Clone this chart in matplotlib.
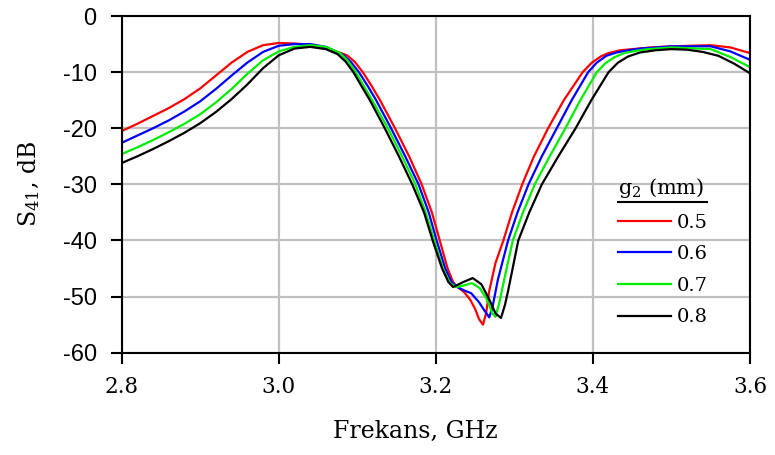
import matplotlib
matplotlib.use("Agg")
import matplotlib.pyplot as plt
from matplotlib.lines import Line2D

plt.rcParams['mathtext.fontset'] = 'dejavuserif'

# g2 = 0.5 mm
f_05 = [2.80, 2.82, 2.84, 2.86, 2.88, 2.90, 2.92, 2.94, 2.96, 2.98, 3.00, 3.02, 3.04,
        3.065, 3.087, 3.097, 3.107, 3.118, 3.129, 3.148, 3.166, 3.182, 3.195, 3.205,
        3.215, 3.222, 3.226, 3.236, 3.244, 3.250, 3.255, 3.260, 3.264, 3.268, 3.276,
        3.286, 3.297, 3.310, 3.325, 3.343, 3.363, 3.387, 3.398, 3.41, 3.42, 3.435,
        3.45, 3.475, 3.50, 3.55, 3.575, 3.60]
s_05 = [-20.5, -19.2, -17.8, -16.4, -14.8, -12.9, -10.6, -8.3, -6.4, -5.2, -4.8, -4.9, -5.1,
        -5.9, -7.0, -8.2, -10.0, -12.4, -15.0, -20, -25, -30, -35, -40,
        -45, -47.4, -48.1, -49.2, -50.6, -52.2, -54.0, -55.0, -53.0, -49.0, -44.0,
        -40, -35, -30, -25, -20, -15, -10, -8.4, -7.2, -6.6, -6.1,
        -5.9, -5.6, -5.4, -5.2, -5.6, -6.6]

# g2 = 0.6 mm
f_06 = [2.80, 2.82, 2.84, 2.86, 2.88, 2.90, 2.92, 2.94, 2.96, 2.98, 3.00, 3.02, 3.04,
        3.06, 3.082, 3.092, 3.102, 3.113, 3.124, 3.143, 3.161, 3.178, 3.191, 3.201,
        3.212, 3.220, 3.226, 3.236, 3.245, 3.255, 3.262, 3.268, 3.272, 3.279,
        3.292, 3.304, 3.318, 3.335, 3.354, 3.373, 3.394, 3.405, 3.417, 3.43, 3.445,
        3.46, 3.48, 3.50, 3.55, 3.575, 3.60]
s_06 = [-22.6, -21.3, -20.0, -18.6, -17.0, -15.2, -13.0, -10.6, -8.3, -6.4, -5.3, -5.0, -5.0,
        -5.5, -6.9, -8.2, -10.0, -12.4, -15.0, -20, -25, -30, -35, -40,
        -45, -47.4, -48.2, -48.9, -49.4, -51.0, -52.5, -53.7, -52.0, -47.0,
        -40, -35, -30, -25, -20, -15, -10, -8.3, -7.1, -6.5, -6.1,
        -5.8, -5.6, -5.4, -5.4, -6.3, -7.8]

# g2 = 0.7 mm
f_07 = [2.80, 2.82, 2.84, 2.86, 2.88, 2.90, 2.92, 2.94, 2.96, 2.98, 3.00, 3.02, 3.04,
        3.06, 3.078, 3.088, 3.098, 3.108, 3.119, 3.139, 3.157, 3.174, 3.187, 3.198,
        3.209, 3.218, 3.226, 3.236, 3.246, 3.256, 3.265, 3.272, 3.276, 3.281, 3.287,
        3.298, 3.311, 3.326, 3.345, 3.365, 3.384, 3.405, 3.416, 3.428, 3.44, 3.455,
        3.47, 3.49, 3.50, 3.55, 3.575, 3.60]
s_07 = [-24.6, -23.4, -22.1, -20.7, -19.2, -17.5, -15.4, -13.0, -10.3, -7.9, -6.3, -5.5, -5.2,
        -5.5, -6.6, -8.0, -10.0, -12.4, -15.0, -20, -25, -30, -35, -40,
        -45, -47.6, -48.3, -48.0, -47.6, -48.5, -50.5, -53.0, -53.6, -51.0, -47.0,
        -40, -35, -30, -25, -20, -15, -10, -8.4, -7.3, -6.6, -6.2,
        -5.9, -5.7, -5.6, -5.9, -7.3, -9.1]

# g2 = 0.8 mm
f_08 = [2.80, 2.82, 2.84, 2.86, 2.88, 2.90, 2.92, 2.94, 2.96, 2.98, 3.00, 3.02, 3.04,
        3.06, 3.075, 3.085, 3.095, 3.105, 3.116, 3.135, 3.153, 3.170, 3.185, 3.196,
        3.208, 3.216, 3.222, 3.235, 3.247, 3.258, 3.268, 3.276, 3.283, 3.288, 3.292,
        3.305, 3.319, 3.335, 3.356, 3.378, 3.398, 3.42, 3.432, 3.445, 3.46, 3.48,
        3.50, 3.52, 3.54, 3.56, 3.58, 3.60]
s_08 = [-26.2, -25.0, -23.7, -22.3, -20.8, -19.1, -17.1, -14.8, -12.2, -9.3, -7.0, -5.8, -5.5,
        -5.9, -6.8, -8.1, -10.0, -12.4, -15.0, -20, -25, -30, -35, -40,
        -45, -47.4, -48.3, -47.4, -46.7, -47.8, -50.5, -53.0, -53.8, -51.5, -49.0,
        -40, -35, -30, -25, -20, -15, -10, -8.3, -7.2, -6.5, -6.1,
        -5.9, -6.0, -6.4, -7.1, -8.5, -10.2]

series = [(f_05, s_05, '0.5', '#ff0000'),
          (f_06, s_06, '0.6', '#0000ff'),
          (f_07, s_07, '0.7', '#00ee00'),
          (f_08, s_08, '0.8', '#000000')]

x_ticks = [2.8, 3.0, 3.2, 3.4, 3.6]
x_ticklabels = ['2.8', '3.0', '3.2', '3.4', '3.6']
y_ticks = [0, -10, -20, -30, -40, -50, -60]

fig = plt.figure(figsize=(7.75, 4.55), dpi=100)
ax = fig.add_axes([0.157, 0.2248, 0.8107, 0.74])

for f, s, lab, col in series:
    ax.plot(f, s, color=col, lw=1.6, label=lab, solid_joinstyle='round')

ax.set_xlim(2.8, 3.6)
ax.set_ylim(-60, 0)
ax.set_xticks(x_ticks)
ax.set_xticklabels(x_ticklabels, family='DejaVu Serif', fontsize=15.5)
ax.set_yticks(y_ticks)
ax.set_yticklabels([str(v) for v in y_ticks], family='Liberation Sans', fontsize=17)
ax.grid(True, color='#c0c0c0', lw=1.6)
ax.set_axisbelow(True)
for sp in ax.spines.values():
    sp.set_linewidth(1.5)
    sp.set_color('black')
ax.tick_params(axis='both', direction='out', length=8, width=1.5)
ax.tick_params(axis='x', pad=9)
ax.tick_params(axis='y', pad=10)

ax.set_xlabel('Frekans, GHz', family='DejaVu Serif', fontsize=17)
ax.set_ylabel('S$_{41}$, dB', family='DejaVu Serif', fontsize=17)
ax.xaxis.set_label_coords(0.467, -0.2)
ax.yaxis.set_label_coords(-0.127, 0.5)

leg = ax.legend(loc='upper left', bbox_to_anchor=(0.79, 0.525), frameon=False,
                title='g$_2$ (mm)', title_fontproperties={'family': 'DejaVu Serif', 'size': 15},
                prop={'family': 'DejaVu Serif', 'size': 14},
                handlelength=2.7, handletextpad=0.3, labelspacing=0.7,
                borderpad=0, borderaxespad=0)
leg._legend_box.align = 'left'

# underline the legend title
fig.canvas.draw()
bb = leg.get_title().get_window_extent()
ax.add_line(Line2D([bb.x0, bb.x1 + 3], [bb.y0 - 2, bb.y0 - 2], transform=None,
                   color='black', lw=1.5))

fig.savefig('out.png', dpi=100)
